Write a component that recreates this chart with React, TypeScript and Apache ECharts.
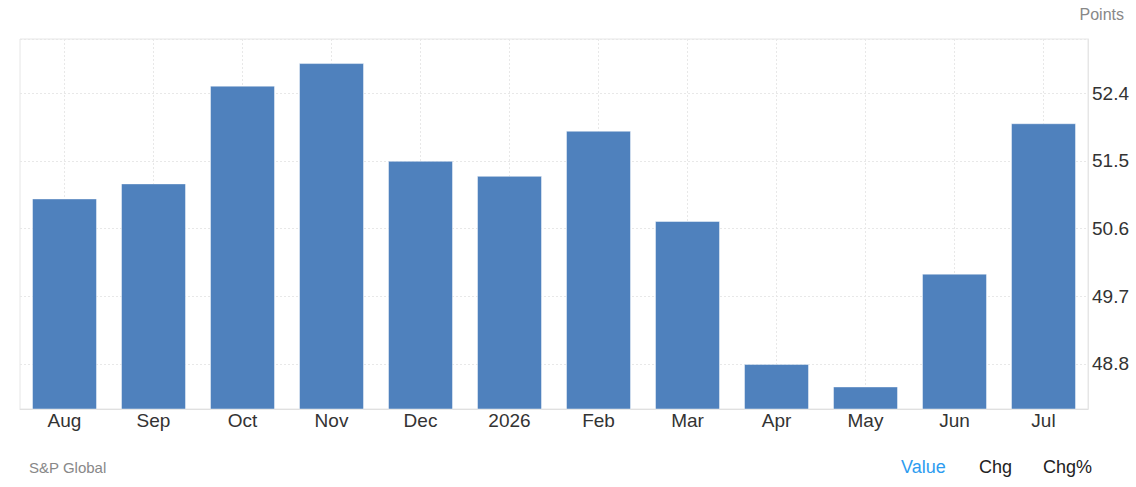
import React, { useEffect, useRef } from "react";
import * as echarts from "echarts";

const categories = ["Aug", "Sep", "Oct", "Nov", "Dec", "2026", "Feb", "Mar", "Apr", "May", "Jun", "Jul"];
const values = [51.0, 51.2, 52.5, 52.8, 51.5, 51.3, 51.9, 50.7, 48.8, 48.5, 50.0, 52.0];
const yTickLabels = [48.8, 49.7, 50.6, 51.5, 52.4];
const yMin = 48.2;
const yMax = 53.12;

const FONT = "'Liberation Sans', Arial, sans-serif";

export default function App() {
  const ref = useRef<HTMLDivElement>(null);

  useEffect(() => {
    if (!ref.current) return;
    const chart = echarts.init(ref.current, undefined, { renderer: "svg" });
    chart.setOption({
      animation: false,
      backgroundColor: "#ffffff",
      grid: {
        left: 20,
        right: 48,
        top: 39,
        bottom: 78,
        show: true,
        borderColor: "#e6e6e6",
        borderWidth: 1,
      },
      xAxis: {
        type: "category",
        data: categories,
        axisLine: { show: true, lineStyle: { color: "#e0e0e0", width: 1 } },
        axisTick: { show: false },
        axisLabel: {
          color: "#333333",
          fontSize: 19,
          fontFamily: FONT,
          margin: 2,
          interval: 0,
        },
        splitLine: {
          show: true,
          alignWithLabel: true,
          lineStyle: { color: "#e8e8e8", type: [2, 2], width: 1 },
        },
      },
      yAxis: {
        type: "value",
        position: "right",
        min: yMin,
        max: yMax,
        axisLine: { show: true, lineStyle: { color: "#e6e6e6", width: 1 } },
        axisTick: { show: false, customValues: [...yTickLabels, yMax] },
        axisLabel: {
          customValues: yTickLabels,
          color: "#333333",
          fontSize: 19,
          fontFamily: FONT,
          margin: 4,
          formatter: (v: number) => v.toFixed(1),
        },
        splitLine: {
          show: true,
          lineStyle: { color: "#e8e8e8", type: [2, 2], width: 1 },
        },
      },
      series: [
        {
          type: "bar",
          data: values,
          barWidth: 65,
          itemStyle: {
            color: "#4f81bd",
            borderColor: "rgba(255,255,255,0.45)",
            borderWidth: 1,
          },
        },
      ],
      graphic: [
        {
          type: "text",
          right: 12,
          top: 6,
          style: { text: "Points", fill: "#888888", fontSize: 16, fontFamily: FONT },
        },
        {
          type: "text",
          left: 29,
          top: 460,
          style: { text: "S&P Global", fill: "#888888", fontSize: 15, fontFamily: FONT },
        },
        {
          type: "text",
          left: 901,
          top: 458,
          style: { text: "Value", fill: "#2d9cf0", fontSize: 18, fontFamily: FONT },
        },
        {
          type: "text",
          left: 979,
          top: 458,
          style: { text: "Chg", fill: "#222222", fontSize: 18, fontFamily: FONT },
        },
        {
          type: "text",
          left: 1043,
          top: 458,
          style: { text: "Chg%", fill: "#222222", fontSize: 18, fontFamily: FONT },
        },
      ],
    });
    return () => chart.dispose();
  }, []);

  return (
    <div
      ref={ref}
      style={{ position: "fixed", left: 0, top: 0, width: 1136, height: 487, background: "#fff" }}
    />
  );
}
